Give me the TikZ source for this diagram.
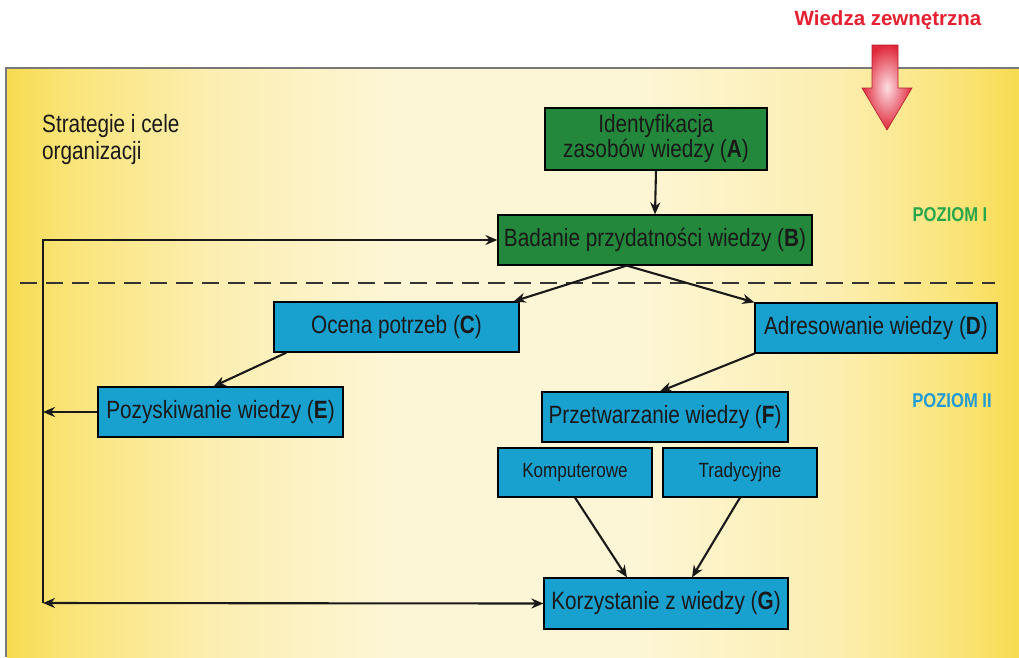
\documentclass[tikz,border=0pt]{standalone}
\usepackage{fontspec}
\setmainfont{Liberation Sans}
\newfontfamily\narrowfont{Liberation Sans}[FakeStretch=0.83]
\usetikzlibrary{arrows.meta,calc}

\definecolor{boxgreen}{RGB}{36,136,60}
\definecolor{boxblue}{RGB}{24,160,206}
\definecolor{levelgreen}{RGB}{40,166,74}
\definecolor{levelblue}{RGB}{30,155,214}
\definecolor{titlered}{RGB}{230,32,48}
\definecolor{arrowred}{RGB}{224,40,58}
\definecolor{arrowpink}{RGB}{252,222,228}
\definecolor{paperA}{RGB}{253,246,214}
\definecolor{paperB}{RGB}{252,238,176}
\definecolor{paperC}{RGB}{250,228,120}
\definecolor{paperD}{RGB}{247,219,80}
\definecolor{framegray}{RGB}{120,120,120}

% soft paper background: pale in the middle, saturated yellow towards both sides
% (a path shading shows the band from 25bp to 75bp across the panel)
\pgfdeclarehorizontalshading{paper}{100bp}{%
  color(0bp)=(paperD); color(25bp)=(paperD); color(28bp)=(paperC);
  color(35bp)=(paperB); color(44bp)=(paperA); color(56bp)=(paperA);
  color(66bp)=(paperB); color(72bp)=(paperC); color(75bp)=(paperD);
  color(100bp)=(paperD)}

\tikzset{
  flowtip/.tip={Stealth[length=12pt,width=10pt]},
  box/.style={draw=black, line width=1.2pt, inner sep=0pt, align=center,
    text=black!90, font=\narrowfont\fontsize{25}{25}\selectfont},
  greenbox/.style={box, fill=boxgreen},
  bluebox/.style={box, fill=boxblue},
  smallbox/.style={bluebox, font=\narrowfont\fontsize{20.6}{21}\selectfont},
  conn/.style={line width=2.1pt, draw=black!90, -{flowtip}},
  level/.style={font=\narrowfont\bfseries\fontsize{20}{22}\selectfont},
}

\begin{document}
\begin{tikzpicture}[x=1pt,y=-1pt]
\useasboundingbox (0,0) rectangle (1019,657);
\fill[white] (0,0) rectangle (1019,657);

% yellow panel with its grey frame
\shade[shading=paper] (7,69) rectangle (1019,657);
\draw[framegray, line width=1.5pt] (6,657) -- (6,68) -- (1019,68);

% external knowledge input
\node[font=\bfseries\fontsize{20.5}{22}\selectfont, text=titlered] (ext) at (888,20) {Wiedza zewnętrzna};
\shade[inner color=arrowpink, outer color=arrowred, draw=arrowred!80!black, line width=0.6pt]
  (872,45) -- (898,45) -- (898,88) -- (912,88) -- (887,130) -- (862,88) -- (872,88) -- cycle;

% strategy label
\node[anchor=north west, inner sep=0pt, align=left, text=black!90,
  font=\narrowfont\fontsize{25}{27}\selectfont] (strat) at (42,114) {Strategie i cele\\organizacji};

% level labels
\node[level, text=levelgreen] (lvl1) at (950,215) {POZIOM I};
\node[level, text=levelblue] (lvl2) at (952,401) {POZIOM II};

% boundary between the levels
\draw[black!80, line width=1.4pt, dash pattern=on 17pt off 9pt] (20,283) -- (995,283);

% process boxes
\node[greenbox, minimum width=222pt, minimum height=62pt] (A) at (656,139)
  {Identyfikacja\\zasobów wiedzy (\textbf{A})};
\node[greenbox, minimum width=314pt, minimum height=50pt] (B) at (655,240)
  {Badanie przydatności wiedzy (\textbf{B})};
\node[bluebox, minimum width=245pt, minimum height=50pt] (C) at (396.5,327)
  {Ocena potrzeb (\textbf{C})};
\node[bluebox, minimum width=242pt, minimum height=50pt] (D) at (876,328)
  {Adresowanie wiedzy (\textbf{D})};
\node[bluebox, minimum width=245pt, minimum height=50pt] (E) at (220.5,412)
  {Pozyskiwanie wiedzy (\textbf{E})};
\node[bluebox, minimum width=246pt, minimum height=50pt] (F) at (665,417)
  {Przetwarzanie wiedzy (\textbf{F})};
\node[smallbox, minimum width=154pt, minimum height=49pt] (K) at (575,472.5) {Komputerowe};
\node[smallbox, minimum width=154pt, minimum height=49pt] (T) at (740,472.5) {Tradycyjne};
\node[bluebox, minimum width=244pt, minimum height=51pt] (G) at (666,603.5)
  {Korzystanie z wiedzy (\textbf{G})};

% flow between the boxes
\draw[conn] (A.south) -- (B.north);
\coordinate (Bout) at ($(B.south west)!0.41!(B.south east)$);
\draw[conn] (Bout) -- ($(C.north east)+(-6,0)$);
\draw[conn] (Bout) -- (D.north west);
\draw[conn] ($(C.south west)+(13,0)$) -- ($(E.north)+(-7,0)$);
\draw[conn] (D.south west) -- ($(F.north)+(-5,0)$);
\draw[conn] (K.south) -- ($(G.north)+(-39,0)$);
\draw[conn] (T.south) -- ($(G.north)+(26,0)$);

% feedback loop along the left side
\coordinate (Lb) at (43,603);
\draw[conn] (Lb) |- (B.west);
\draw[conn, {flowtip}-{flowtip}] (Lb) -- (G.west);
\draw[conn] (E.west) -- (E.west -| Lb);
\end{tikzpicture}
\end{document}
